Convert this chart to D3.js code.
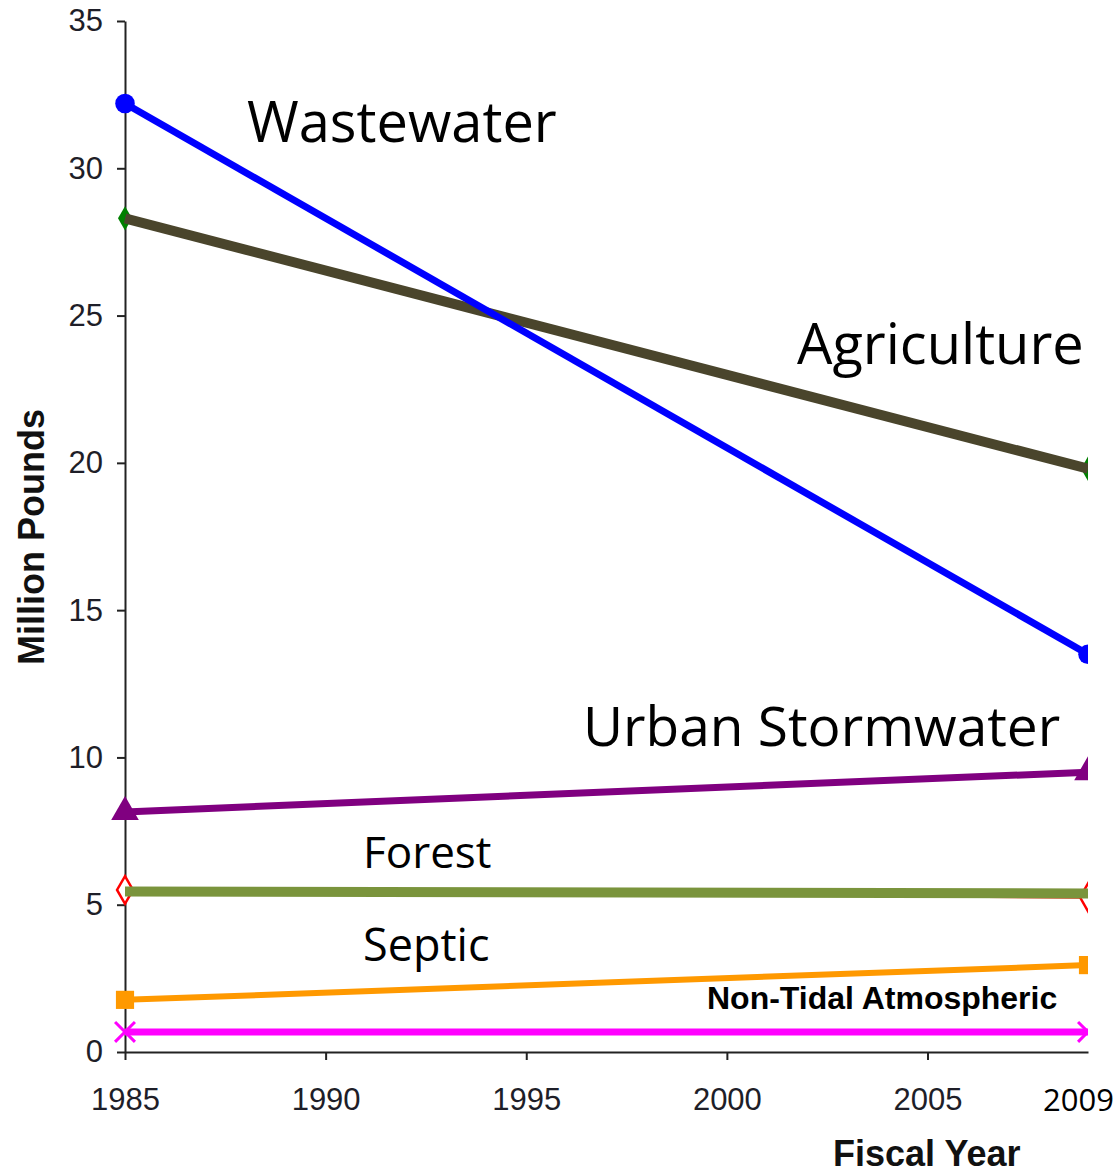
<!DOCTYPE html>
<html>
<head>
<meta charset="utf-8">
<script src="https://cdn.jsdelivr.net/npm/d3@7"></script>
<style>
  html, body { margin: 0; padding: 0; background: #fff; }
  svg { display: block; }
</style>
</head>
<body>
<svg id="chart" width="1120" height="1175"></svg>
<script>
// ---- data ----
const years = [1985, 2009];
const xTickYears = [1985, 1990, 1995, 2000, 2005];
const yTicks = [0, 5, 10, 15, 20, 25, 30, 35];

const wastewater = [32.2, 13.5];
const agricultureMarkers = [28.3, 19.8];
const agriculture = [28.3, 19.8];
const urbanStormwater = [8.15, 9.5];
const forestMarkers = [5.5, 5.25];
const forest = [5.45, 5.38];
const septic = [1.77, 2.95];
const nonTidalAtmospheric = [0.68, 0.68];

const labels = ["Wastewater", "Agriculture", "Urban Stormwater", "Forest", "Septic", "Non-Tidal Atmospheric"];

// ---- layout ----
const svg = d3.select("#chart");
const x = d3.scaleLinear().domain([1985, 2009]).range([125, 1088]);
const y = d3.scaleLinear().domain([0, 35]).range([1052, 21]);

const line = d3.line().x((d, i) => x(years[i])).y(d => y(d));

svg.append("defs").append("clipPath").attr("id", "clip")
  .append("rect").attr("x", 0).attr("y", 0).attr("width", x(2009)).attr("height", 1175);

// axes
const yAxis = svg.append("g").attr("transform", `translate(${x(1985)},0)`)
  .call(d3.axisLeft(y).tickValues(yTicks).tickSize(8).tickSizeOuter(0).tickPadding(14));
yAxis.selectAll("text").attr("font-family", "'Liberation Sans', Arial, sans-serif")
  .attr("font-size", 31).attr("fill", "#1e1e28");
yAxis.select(".domain").attr("stroke", "#222").attr("stroke-width", 2);
yAxis.selectAll(".tick line").attr("stroke", "#222").attr("stroke-width", 2);

const xAxis = svg.append("g").attr("transform", `translate(0,${y(0)})`)
  .call(d3.axisBottom(x).tickValues(xTickYears).tickFormat(d3.format("d"))
    .tickSize(8).tickSizeOuter(0).tickPadding(28));
xAxis.selectAll("text").attr("font-family", "'Liberation Sans', Arial, sans-serif")
  .attr("font-size", 31).attr("fill", "#1e1e28");
xAxis.select(".domain").attr("stroke", "#222").attr("stroke-width", 2);
xAxis.selectAll(".tick line").attr("stroke", "#222").attr("stroke-width", 2);

svg.append("text").attr("x", 1043).attr("y", 1111)
  .attr("font-family", "'Open Sans', sans-serif").attr("font-size", 31).attr("fill", "#000")
  .text(years[1]);

svg.append("text")
  .attr("transform", `translate(44,${537}) rotate(-90)`)
  .attr("text-anchor", "middle")
  .attr("font-family", "'Liberation Sans', Arial, sans-serif").attr("font-weight", "bold")
  .attr("font-size", 36).attr("fill", "#111").text("Million Pounds");

svg.append("text").attr("x", 833).attr("y", 1166)
  .attr("font-family", "'Liberation Sans', Arial, sans-serif").attr("font-weight", "bold")
  .attr("font-size", 36).attr("fill", "#111").text("Fiscal Year");

// ---- series ----
const plot = svg.append("g").attr("clip-path", "url(#clip)");

function drawLine(vals, color, width) {
  plot.append("path").datum(vals).attr("d", line)
    .attr("fill", "none").attr("stroke", color).attr("stroke-width", width);
}
function markers(vals, shape, size, fill, stroke, sw) {
  plot.selectAll(null).data(vals).join("path")
    .attr("transform", (d, i) => `translate(${x(years[i])},${y(d)})`)
    .attr("d", d3.symbol().type(shape).size(size))
    .attr("fill", fill).attr("stroke", stroke || "none").attr("stroke-width", sw || 0);
}

// Non-tidal atmospheric
drawLine(nonTidalAtmospheric, "#ff00ff", 7);
markers(nonTidalAtmospheric, d3.symbolX, 260, "none", "#ff00ff", 3);

// Septic
drawLine(septic, "#ff9900", 6);
markers(septic, d3.symbolSquare, 330, "#ff9900");

// Forest (red diamonds underneath, olive line on top)
drawLine(forestMarkers, "#ff0000", 3);
markers(forestMarkers, d3.symbolDiamond, 220, "#fff", "#ff0000", 2.5);
drawLine(forest, "#7a943c", 10);

// Urban stormwater
drawLine(urbanStormwater, "#800080", 7);
markers(urbanStormwater, d3.symbolTriangle, 330, "#800080");

// Agriculture (green diamonds underneath, dark olive line on top)
drawLine(agricultureMarkers, "#008000", 4);
markers(agricultureMarkers, d3.symbolDiamond, 170, "#008000");
drawLine(agriculture, "#4a452c", 10);

// Wastewater
drawLine(wastewater, "#0000ff", 7);
markers(wastewater, d3.symbolCircle, 300, "#0000ff");

// ---- labels ----
const lab = (t, xx, yy, size, fam, weight) => svg.append("text")
  .attr("x", xx).attr("y", yy).attr("font-family", fam).attr("font-size", size)
  .attr("font-weight", weight || "normal").attr("fill", "#000").text(t);
const calib = "'Open Sans', 'Noto Sans', sans-serif";
lab(labels[0], 247, 142, 56, calib);
lab(labels[1], 797, 364, 56, calib);
lab(labels[2], 583, 746, 55, calib);
lab(labels[3], 363, 868, 44, calib);
lab(labels[4], 363, 961, 45, calib);
lab(labels[5], 707, 1009, 32, "'Liberation Sans', Arial, sans-serif", "bold");
</script>
</body>
</html>
